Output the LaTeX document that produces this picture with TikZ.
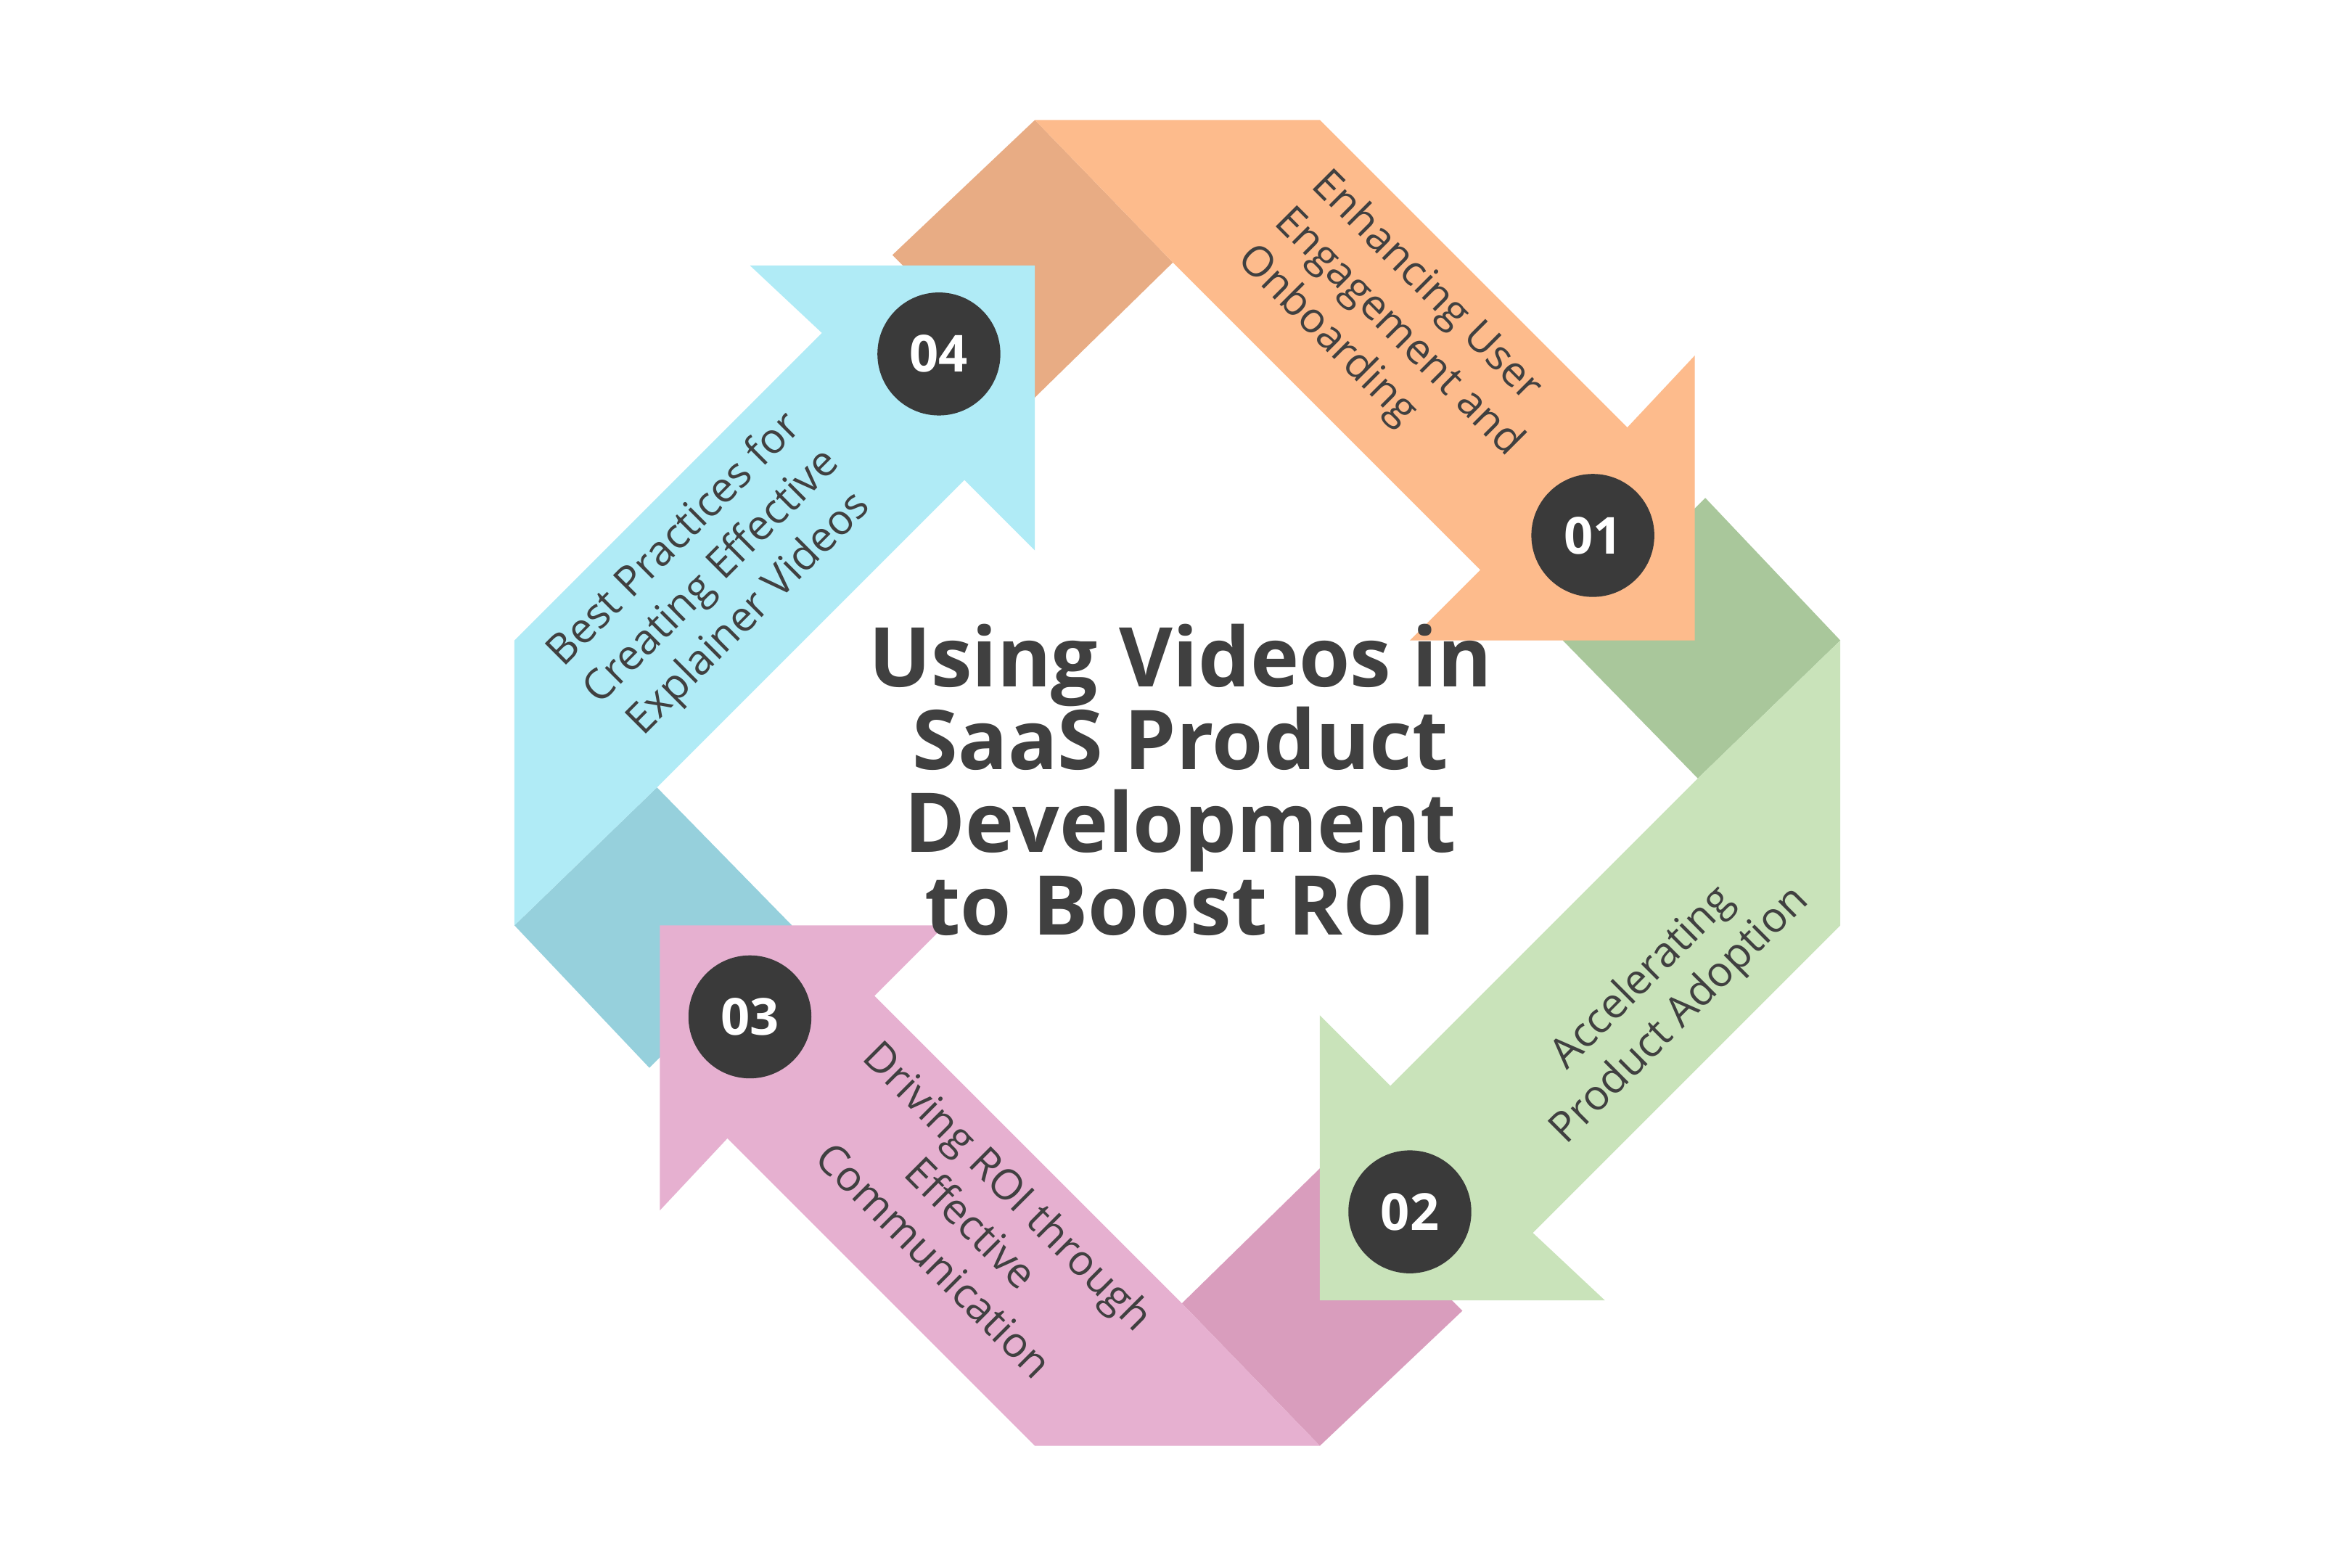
\documentclass[tikz,border=0pt]{standalone}
\usepackage{fontspec}
\setmainfont{Open Sans}
\definecolor{cOr}{HTML}{FDBB8C}
\definecolor{cOrD}{HTML}{E8AC84}
\definecolor{cGr}{HTML}{C9E3BA}
\definecolor{cGrD}{HTML}{A9C79B}
\definecolor{cPk}{HTML}{E6B0D0}
\definecolor{cPkD}{HTML}{D99DBD}
\definecolor{cBl}{HTML}{B0EBF6}
\definecolor{cBlD}{HTML}{96D0DC}
\definecolor{cTx}{HTML}{404040}
\definecolor{cCi}{HTML}{3A3A3A}
\tikzset{
  numc/.style={circle,fill=cCi,minimum size=41pt,inner sep=0pt,text=white,font=\fontsize{17}{17}\selectfont\bfseries},
  lbl/.style={text=cTx,font=\fontsize{14}{17.5}\selectfont,inner sep=0pt}
}
\begin{document}
\begin{tikzpicture}[x=0.5pt,y=-0.5pt]
\useasboundingbox (0,0) rectangle (1567.5,1045);
\fill[white] (0,0) rectangle (1567.5,1045);
\begin{scope}[shift={(785,522)}]
\fill[cOrD] (-190,-352) -- (-95,-442) -- (-3,-347) -- (-95,-257) -- cycle;
\fill[cGrD] (352,-190) -- (442,-95) -- (347,-3) -- (257,-95) -- cycle;
\fill[cPkD] (190,352) -- (95,442) -- (3,347) -- (95,257) -- cycle;
\fill[cBlD] (-352,190) -- (-442,95) -- (-347,3) -- (-257,95) -- cycle;
\fill[cOr] (-95,-442) -- (95,-442) -- (300,-237) -- (345,-285) -- (345,-95) -- (155,-95) -- (202,-142) -- (-3,-347) -- cycle;
\fill[cGr] (442,-95) -- (442,95) -- (237,300) -- (285,345) -- (95,345) -- (95,155) -- (142,202) -- (347,-3) -- cycle;
\fill[cPk] (95,442) -- (-95,442) -- (-300,237) -- (-345,285) -- (-345,95) -- (-155,95) -- (-202,142) -- (3,347) -- cycle;
\fill[cBl] (-442,95) -- (-442,-95) -- (-237,-300) -- (-285,-345) -- (-95,-345) -- (-95,-155) -- (-142,-202) -- (-347,3) -- cycle;
\end{scope}
\node[numc] (n1) at (1062,357) {01};
\node[numc] (n2) at (940,808) {02};
\node[numc] (n3) at (500,678) {03};
\node[numc] (n4) at (626,236) {04};
\node[lbl,rotate=-45,align=left] (l1) at (932,222) {Enhancing User\\Engagement and\\Onboarding};
\node[lbl,rotate=45,align=center] (l2) at (1108,665) {Accelerating\\Product Adoption};
\node[lbl,rotate=-45,align=center] (l3) at (648,815) {Driving ROI through\\Effective\\Communication};
\node[lbl,rotate=45,align=center] (l4) at (475,385) {Best Practices for\\Creating Effective\\Explainer Videos};
\node[text=cTx,font=\fontsize{27.5}{27.5}\selectfont\bfseries,align=center] (t) at (787,520) {Using Videos in\\SaaS Product\\Development\\to Boost ROI};
\end{tikzpicture}
\end{document}
